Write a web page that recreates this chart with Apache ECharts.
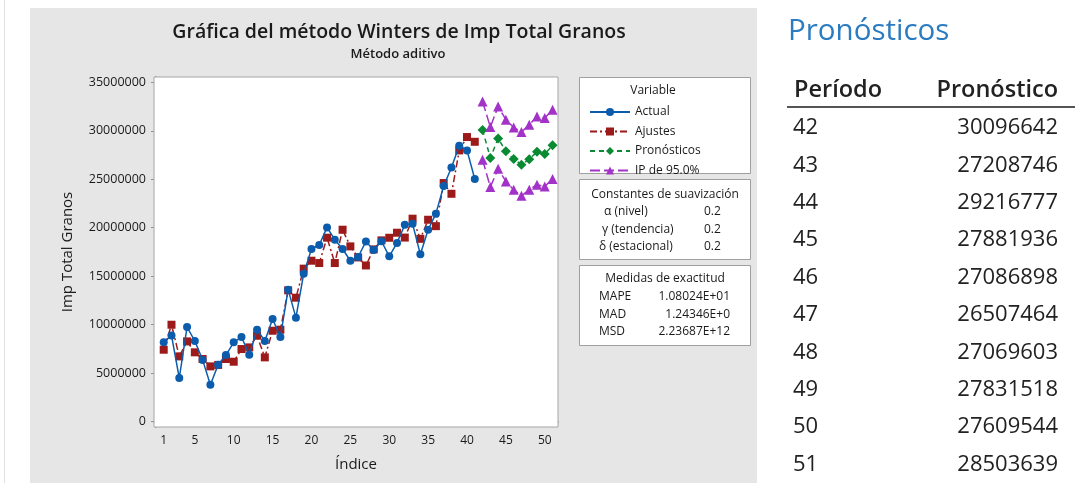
<!DOCTYPE html>
<html><head><meta charset="utf-8">
<script src="https://cdn.jsdelivr.net/npm/echarts@6/dist/echarts.min.js"></script>
<style>html,body{margin:0;padding:0;background:#fff}#c{width:1075px;height:483px}</style>
</head><body><div id="c"></div>
<script>
// ---- data ----
const periods = [1,2,3,4,5,6,7,8,9,10,11,12,13,14,15,16,17,18,19,20,21,22,23,24,25,26,27,28,29,30,31,32,33,34,35,36,37,38,39,40,41];
const actual = [8160000,8880000,4480000,9740000,8300000,6350000,3790000,5850000,6850000,8160000,8710000,6890000,9470000,8300000,10570000,8710000,13600000,10710000,15250000,17800000,18210000,20030000,18760000,17800000,16590000,16970000,18580000,17700000,18600000,17040000,18430000,20300000,20400000,17250000,19790000,21450000,24300000,26220000,28460000,27980000,25030000];
const fits = [7400000,9980000,6710000,8260000,7130000,6440000,5680000,5830000,6440000,6160000,7470000,7640000,8850000,6610000,9360000,9470000,13530000,12770000,15770000,16590000,16350000,18970000,16350000,19790000,18070000,16930000,16100000,17760000,18690000,18960000,19480000,18980000,20930000,18850000,20820000,20160000,24610000,23500000,27980000,29360000,28870000];
const forecastPeriods = [42,43,44,45,46,47,48,49,50,51];
const forecasts = [30096642,27208746,29216777,27881936,27086898,26507464,27069603,27831518,27609544,28503639];
const upperPI = [33040000,30390000,32520000,31150000,30350000,29880000,30630000,31490000,31320000,32180000];
const lowerPI = [27020000,24200000,26090000,24780000,23920000,23300000,23920000,24440000,24260000,25030000];
const xTicks = [1,5,10,15,20,25,30,35,40,45,50];
const yTicks = [0,5000000,10000000,15000000,20000000,25000000,30000000,35000000];
const seriesNames = ['Actual','Ajustes','Pronósticos','IP de 95.0%'];
const smoothing = [['α (nivel)','0.2'],['γ (tendencia)','0.2'],['δ (estacional)','0.2']];
const accuracy = [['MAPE','1.08024E+01'],['MAD','1.24346E+0'],['MSD','2.23687E+12']];

// ---- helpers ----
const FF = "'Open Sans', 'Noto Sans', sans-serif";
const pair = (xs, ys) => xs.map((x, k) => [x, ys[k]]);
function txt(text, x, y, size, opts) {
  opts = opts || {};
  return { type: 'text', z: 50, silent: true, style: {
    text: text, x: x, y: y, fontSize: size, fontFamily: FF,
    fontWeight: opts.weight || 'normal', fill: opts.color || '#1a1a1a',
    align: opts.align || 'left', verticalAlign: 'middle' } };
}
function box(x, y, w, h) {
  return { type: 'rect', z: 5, silent: true, shape: { x: x, y: y, width: w, height: h },
    style: { fill: '#ffffff', stroke: '#9f9f9f', lineWidth: 1 } };
}

const graphics = [
  { type: 'rect', z: 0, silent: true, shape: { x: 30, y: 8, width: 727, height: 480 }, style: { fill: '#e6e6e6' } },
  { type: 'line', z: 0, silent: true, shape: { x1: 4.5, y1: 0, x2: 4.5, y2: 483 }, style: { stroke: '#e2e2e2', lineWidth: 1 } },
  txt('Gráfica del método Winters de Imp Total Granos', 399, 32, 19.5, { weight: 600, align: 'center' }),
  txt('Método aditivo', 398, 54, 13, { weight: 600, align: 'center' }),
  box(579.5, 77.5, 171, 96),
  txt('Variable', 653, 91, 12, { align: 'center' }),
  box(579.5, 179.5, 171, 80),
  txt('Constantes de suavización', 665, 195, 12, { align: 'center' }),
  box(579.5, 265.5, 171, 80),
  txt('Medidas de exactitud', 665, 279, 12, { align: 'center' }),
  // right-side output table
  txt('Pronósticos', 788, 32, 29.5, { color: '#2a7bc0' }),
  txt('Período', 794, 90, 23.5, { weight: 600, color: '#222' }),
  txt('Pronóstico', 1058, 90, 23.5, { weight: 600, color: '#222', align: 'right' }),
  { type: 'line', z: 5, silent: true, shape: { x1: 787, y1: 107, x2: 1075, y2: 107 }, style: { stroke: '#555', lineWidth: 2 } }
];
smoothing.forEach((r, k) => {
  graphics.push(txt(r[0], [604, 602, 599][k], 212 + k * 17.5, 12));
  graphics.push(txt(r[1], 704, 212 + k * 17.5, 12));
});
accuracy.forEach((r, k) => {
  graphics.push(txt(r[0], 599, 297 + k * 17.5, 12));
  graphics.push(txt(r[1], 730, 297 + k * 17.5, 12, { align: 'right' }));
});
forecastPeriods.forEach((p, k) => {
  graphics.push(txt(String(p), 793, 128 + k * 37.4, 22, { color: '#222' }));
  graphics.push(txt(String(forecasts[k]), 1058, 128 + k * 37.4, 22, { color: '#222', align: 'right' }));
});

const C = { blue: '#0b5cad', red: '#9c1a1a', green: '#0a8a33', purple: '#a333c8' };

const option = {
  animation: false,
  backgroundColor: '#ffffff',
  textStyle: { fontFamily: FF },
  graphic: graphics,
  grid: { left: 154, top: 77, width: 404, height: 350, show: true, backgroundColor: '#ffffff', borderColor: '#a6a6a6', borderWidth: 1, z: 6 },
  legend: {
    orient: 'vertical', left: 584, top: 101, itemWidth: 40, itemHeight: 10, itemGap: 7.5,
    data: seriesNames, textStyle: { fontSize: 12, color: '#1a1a1a', fontFamily: FF }, z: 60
  },
  xAxis: {
    type: 'value', min: -0.25, max: 51.7,
    name: 'Índice', nameLocation: 'middle', nameGap: 30,
    nameTextStyle: { fontSize: 15, color: '#1a1a1a' },
    axisLine: { show: true, lineStyle: { color: '#a0a0a0', width: 2 } },
    axisTick: { show: true, length: 5, lineStyle: { color: '#909090' }, customValues: xTicks },
    axisLabel: { fontSize: 12, color: '#1a1a1a', margin: 8, customValues: xTicks },
    splitLine: { show: false }
  },
  yAxis: {
    type: 'value', min: -580000, max: 35560000,
    name: 'Imp Total Granos', nameLocation: 'middle', nameGap: 79, nameRotate: 90,
    nameTextStyle: { fontSize: 15, color: '#1a1a1a' },
    axisLine: { show: true, lineStyle: { color: '#a0a0a0', width: 2 } },
    axisTick: { show: true, length: 5, lineStyle: { color: '#909090' }, customValues: yTicks },
    axisLabel: { fontSize: 12.5, color: '#1a1a1a', margin: 8, customValues: yTicks, formatter: v => String(Math.round(v)) },
    splitLine: { show: false }
  },
  series: [
    { name: seriesNames[0], type: 'line', data: pair(periods, actual), symbol: 'circle', symbolSize: 8,
      itemStyle: { color: C.blue }, lineStyle: { color: C.blue, width: 1.5 }, z: 10 },
    { name: seriesNames[1], type: 'line', data: pair(periods, fits), symbol: 'rect', symbolSize: 8,
      itemStyle: { color: C.red }, lineStyle: { color: C.red, width: 1.5, type: [7, 3, 2, 3] }, z: 9 },
    { name: seriesNames[2], type: 'line', data: pair(forecastPeriods, forecasts), symbol: 'diamond', symbolSize: 10,
      itemStyle: { color: C.green }, lineStyle: { color: C.green, width: 1.5, type: [5, 4] }, z: 9 },
    { name: seriesNames[3], type: 'line', data: pair(forecastPeriods, upperPI), symbol: 'triangle', symbolSize: 10,
      itemStyle: { color: C.purple }, lineStyle: { color: C.purple, width: 1.5, type: [10, 4] }, z: 9 },
    { name: seriesNames[3], type: 'line', data: pair(forecastPeriods, lowerPI), symbol: 'triangle', symbolSize: 10,
      itemStyle: { color: C.purple }, lineStyle: { color: C.purple, width: 1.5, type: [10, 4] }, z: 9 }
  ]
};
const chart = echarts.init(document.getElementById('c'), null, { renderer: 'canvas' });
chart.setOption(option);
</script></body></html>
